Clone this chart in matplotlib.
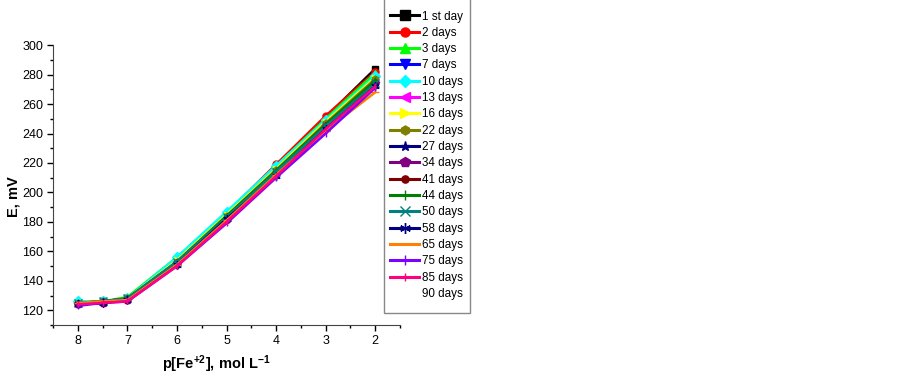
import matplotlib.pyplot as plt
from matplotlib.patches import Rectangle

plt.rcParams['font.family'] = ['Liberation Sans', 'DejaVu Sans']
plt.rcParams['mathtext.default'] = 'regular'

# -----------------------------
# data
p_fe = [8, 7.5, 7, 6, 5, 4, 3, 2]

labels = ['1 st day', '2 days', '3 days', '7 days', '10 days', '13 days', '16 days',
          '22 days', '27 days', '34 days', '41 days', '44 days', '50 days', '58 days',
          '65 days', '75 days', '85 days', '90 days']

day1 = [125, 126, 128, 153, 184, 217, 251, 284]
day2 = [125, 126, 128, 154, 186, 219, 252, 282]
day3 = [126, 126, 129, 156, 186, 218, 250, 281]
day7 = [125, 126, 128, 153, 184, 216, 248, 278]
day10 = [126, 126, 128, 156, 187, 218, 249, 279]
day13 = [124, 125, 127, 152, 183, 214, 246, 276]
day16 = [125, 126, 128, 154, 185, 216, 248, 278]
day22 = [125, 126, 128, 153, 184, 215, 247, 277]
day27 = [125, 126, 128, 152, 183, 214, 246, 275]
day34 = [124, 125, 127, 152, 182, 213, 245, 274]
day41 = [124, 125, 127, 151, 181, 212, 244, 273]
day44 = [125, 126, 128, 153, 184, 215, 246, 276]
day50 = [125, 126, 128, 153, 183, 214, 245, 274]
day58 = [124, 125, 127, 151, 182, 211, 243, 272]
day65 = [125, 126, 127, 151, 181, 212, 242, 268]
day75 = [123, 125, 126, 150, 179, 210, 240, 271]
day85 = [124, 125, 126, 150, 180, 211, 243, 272]
day90 = []  # listed in legend, nothing drawn

series = [day1, day2, day3, day7, day10, day13, day16, day22, day27, day34,
          day41, day44, day50, day58, day65, day75, day85, day90]

colors = ['black', 'red', '#00ff00', 'blue', 'cyan', 'magenta', 'yellow', '#808000',
          '#000080', '#800080', '#800000', '#008000', '#008080', '#000080',
          '#ff8000', '#8000ff', '#ff0080', 'none']
markers = ['s', 'o', '^', 'v', 'D', '<', '>', 'h', '*', 'p', 'o', '+', 'x',
           (6, 2, 0), '_', '|', '|', '']
msizes = [5, 5, 5, 5, 5, 5, 5, 5, 5, 6, 4, 5, 6, 6, 6, 5, 4, 0]

# -----------------------------
# plotting
fig = plt.figure(figsize=(9.03, 3.76), dpi=100)
ax = fig.add_axes([0.0587, 0.1356, 0.3843, 0.7444])

for lab, ys, c, m, ms in zip(labels, series, colors, markers, msizes):
    if ys:
        ax.plot(p_fe, ys, color=c, marker=m, markersize=ms, linewidth=1.8, label=lab)
    else:
        ax.plot([], [], color=c, marker=m, linewidth=1.8, label=lab)

ax.set_xlim(8.5, 1.5)
ax.set_ylim(110, 300)
ax.set_xticks([8, 7, 6, 5, 4, 3, 2])
ax.set_xticks([8.5, 7.5, 6.5, 5.5, 4.5, 3.5, 2.5, 1.5], minor=True)
ax.set_yticks(range(120, 301, 20))
ax.set_yticks(range(110, 301, 20), minor=True)
ax.tick_params(which='major', direction='out', length=4, width=1, labelsize=9, pad=3)
ax.tick_params(which='minor', direction='out', length=2.5, width=1)
ax.spines['top'].set_visible(False)
ax.spines['right'].set_visible(False)
for s in ['left', 'bottom']:
    ax.spines[s].set_color('#444444')

ax.set_xlabel('p[Fe$^{+2}$], mol L$^{-1}$', fontsize=10.5, fontweight='bold')
ax.set_ylabel('E, mV', fontsize=10.5, fontweight='bold')
ax.xaxis.set_label_coords(0.47, -0.1)
ax.yaxis.set_label_coords(-0.095, 0.46)

# legend box (top runs past the figure edge, as in the original)
fig.patches.append(Rectangle((0.4252, 0.1676), 0.0952, 0.9, transform=fig.transFigure,
                             facecolor='white', edgecolor='#888888', linewidth=1,
                             zorder=3))
leg = fig.legend(loc='upper left', bbox_to_anchor=(0.432, 0.972), fontsize=8.4,
                 labelspacing=0.37, handlelength=2.5, handletextpad=0.25, borderpad=0,
                 frameon=False, borderaxespad=0, markerscale=1.3)
leg.set_zorder(4)
for line in leg.get_lines():
    line.set_linewidth(2.2)

fig.savefig('out.png', dpi=100)
